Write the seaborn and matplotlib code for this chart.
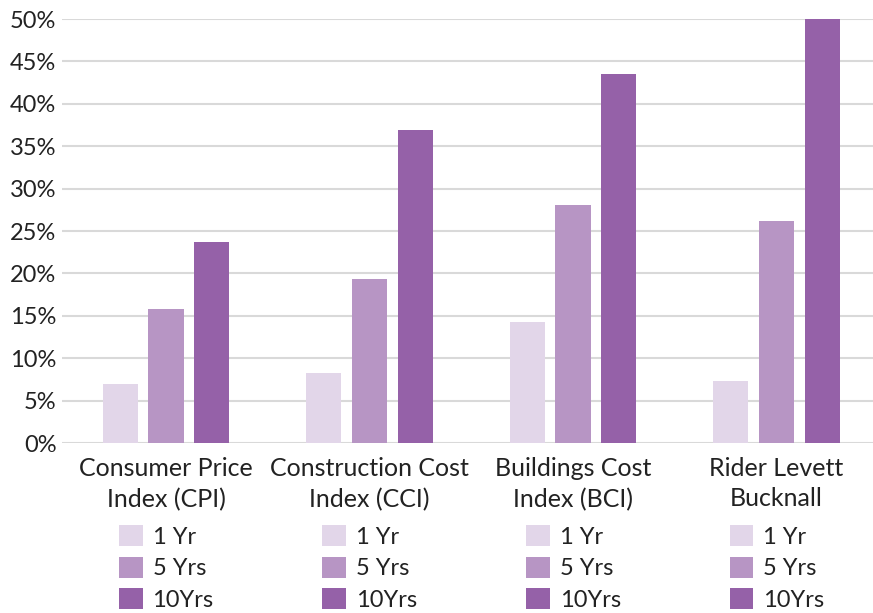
import pandas as pd
import seaborn as sns
import matplotlib.pyplot as plt
from matplotlib.patches import Patch
from matplotlib.transforms import blended_transform_factory

# Chart values
categories = ["Consumer Price\nIndex (CPI)", "Construction Cost\nIndex (CCI)",
              "Buildings Cost\nIndex (BCI)", "Rider Levett\nBucknall"]
periods = ["1 Yr", "5 Yrs", "10Yrs"]
one_yr = [7.0, 8.3, 14.3, 7.35]
five_yrs = [15.8, 19.3, 28.1, 26.2]
ten_yrs = [23.7, 36.9, 43.5, 50.0]
colors = ["#e2d6e9", "#b795c4", "#9561a8"]
y_ticks = [0, 5, 10, 15, 20, 25, 30, 35, 40, 45, 50]


def build_frame():
    rows = []
    for series, name in zip([one_yr, five_yrs, ten_yrs], periods):
        for cat, val in zip(categories, series):
            rows.append({"Index": cat, "Period": name, "Change": val})
    return pd.DataFrame(rows)


def plot_chart(data):
    sns.set_theme(style="white")
    plt.rcParams["font.family"] = ["Lato", "DejaVu Sans"]
    text_color = "#222222"

    fig = plt.figure(figsize=(8.73, 6.13), dpi=100)
    ax = fig.add_axes([62 / 873, 1 - 443 / 613, 1 - 62 / 873, (443 - 19) / 613])

    sns.barplot(data=data, x="Index", y="Change", hue="Period",
                hue_order=periods, palette=colors, saturation=1,
                width=0.672, gap=0.23, linewidth=0,
                legend=False, ax=ax, zorder=3)

    ax.set_xlim(-0.511, 3.474)
    ax.set_ylim(0, 50)
    ax.set_yticks(y_ticks)
    ax.set_yticklabels([f"{t}%" for t in y_ticks])
    ax.yaxis.grid(True, color="#d9d9d9", linewidth=1.5, zorder=0)
    ax.set_axisbelow(True)
    for side in ["top", "right", "left", "bottom"]:
        ax.spines[side].set_visible(False)
    ax.set_xlabel("")
    ax.set_ylabel("")
    ax.tick_params(axis="y", length=0, pad=4, labelsize=17, labelcolor=text_color)
    ax.tick_params(axis="x", length=0, pad=10, labelsize=18, labelcolor=text_color)
    for lbl in ax.get_xticklabels():
        lbl.set_linespacing(1.4)

    # one small legend under each category
    trans = blended_transform_factory(ax.transData, fig.transFigure)
    handles = [Patch(facecolor=c, edgecolor="none") for c in colors]
    for i in range(len(categories)):
        leg = ax.legend(handles, periods, loc="upper left",
                        bbox_to_anchor=(i - 0.231, 1 - 525 / 613),
                        bbox_transform=trans, frameon=False, fontsize=17,
                        handlelength=1.0, handleheight=1.0,
                        handletextpad=0.42, labelspacing=0.38,
                        borderpad=0, borderaxespad=0, labelcolor=text_color)
        if i < len(categories) - 1:
            ax.add_artist(leg)

    fig.savefig("out.png", dpi=100)


if __name__ == "__main__":
    plot_chart(build_frame())
